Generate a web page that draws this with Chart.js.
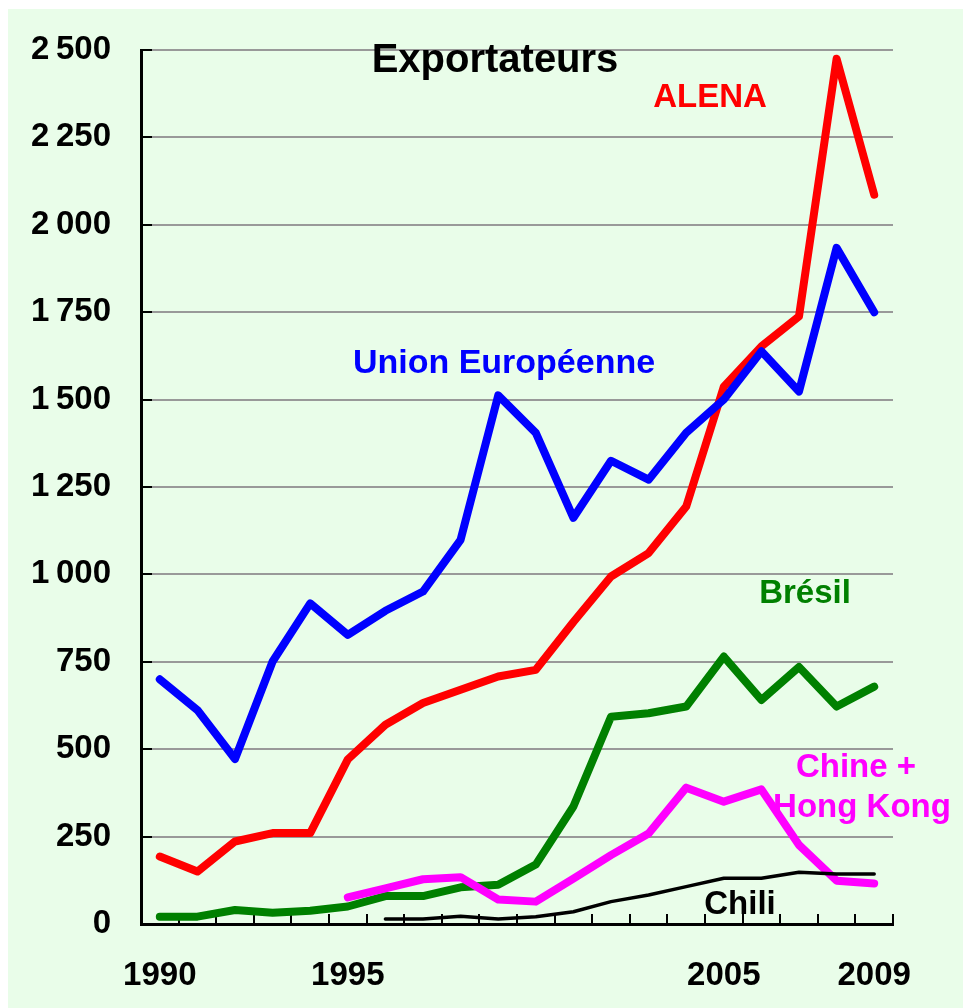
<!DOCTYPE html>
<html lang="fr">
<head>
    <meta charset="UTF-8">
    <title>Exportateurs</title>
    <style>
        html, body {
            margin: 0;
            padding: 0;
            background: #ffffff;
        }
        #chart {
            display: block;
        }
    </style>
</head>
<body>
    <canvas id="chart" width="963" height="1008"></canvas>

    <script src="https://cdn.jsdelivr.net/npm/chart.js"></script>
    <script>
        const years = ['1990', '1991', '1992', '1993', '1994', '1995', '1996', '1997', '1998', '1999',
                       '2000', '2001', '2002', '2003', '2004', '2005', '2006', '2007', '2008', '2009'];
        const xTickLabels = ['1990', '1995', '2005', '2009'];
        const yTickLabels = ['0', '250', '500', '750', '1\u2009000', '1\u2009250', '1\u2009500',
                             '1\u2009750', '2\u2009000', '2\u2009250', '2\u2009500'];

        const unionEuropeenne = [700, 612, 472, 751, 917, 827, 896, 951, 1099, 1512,
                                 1405, 1162, 1325, 1271, 1405, 1500, 1638, 1523, 1934, 1750];
        const alena = [193, 150, 236, 260, 260, 471, 570, 632, 670, 708,
                       727, 864, 994, 1061, 1194, 1537, 1652, 1738, 2475, 2086];
        const bresil = [21, 21, 40, 32, 38, 50, 80, 80, 105, 112,
                        170, 336, 593, 603, 622, 765, 641, 735, 622, 679];
        const chineHongKong = [null, null, null, null, null, 76, 102, 128, 134, 70,
                               64, 130, 197, 259, 390, 350, 385, 226, 124, 116];
        const chili = [null, null, null, null, null, null, 14, 14, 22, 14,
                       21, 35, 64, 83, 107, 131, 131, 148, 143, 143];

        const FONT = "'Liberation Sans', Arial, sans-serif";

        // light green panel behind everything
        const backgroundPlugin = {
            id: 'background',
            beforeDraw(chart) {
                const ctx = chart.ctx;
                ctx.save();
                ctx.fillStyle = '#ffffff';
                ctx.fillRect(0, 0, chart.width, chart.height);
                ctx.fillStyle = '#e9fde9';
                ctx.fillRect(8, 9, chart.width - 8, chart.height - 9);
                ctx.restore();
            }
        };

        // tick marks pointing into the plot area
        const innerTicksPlugin = {
            id: 'innerTicks',
            beforeDatasetsDraw(chart) {
                const ctx = chart.ctx;
                const area = chart.chartArea;
                const yScale = chart.scales.y;
                ctx.save();
                ctx.strokeStyle = '#000000';
                ctx.lineWidth = 2;
                ctx.beginPath();
                yScale.ticks.forEach(t => {
                    const y = Math.round(yScale.getPixelForValue(t.value));
                    ctx.moveTo(area.left, y);
                    ctx.lineTo(area.left + 11, y);
                });
                const n = years.length;
                const step = (area.right - area.left) / n;
                for (let i = 1; i <= n; i++) {
                    const x = Math.round(area.left + i * step);
                    ctx.moveTo(x, area.bottom);
                    ctx.lineTo(x, area.bottom - 10);
                }
                ctx.stroke();
                ctx.restore();
            }
        };

        const seriesLabels = [
            { text: 'Exportateurs', color: '#000000', size: 40, x: 495, y: 72 },
            { text: 'ALENA', color: '#ff0000', size: 33, x: 710, y: 107 },
            { text: 'Union Européenne', color: '#0000ff', size: 34, x: 504, y: 373 },
            { text: 'Brésil', color: '#008000', size: 33, x: 805, y: 603 },
            { text: 'Chine +', color: '#ff00ff', size: 33, x: 856, y: 777 },
            { text: 'Hong Kong', color: '#ff00ff', size: 33, x: 862, y: 817 },
            { text: 'Chili', color: '#000000', size: 33, x: 740, y: 914 }
        ];

        const labelsPlugin = {
            id: 'seriesLabels',
            afterDatasetsDraw(chart) {
                const ctx = chart.ctx;
                ctx.save();
                ctx.textAlign = 'center';
                ctx.textBaseline = 'alphabetic';
                seriesLabels.forEach(l => {
                    ctx.font = 'bold ' + l.size + 'px ' + FONT;
                    ctx.fillStyle = l.color;
                    ctx.fillText(l.text, l.x, l.y);
                });
                ctx.restore();
            }
        };

        function line(label, data, color, width) {
            return {
                label: label,
                data: data,
                borderColor: color,
                backgroundColor: color,
                borderWidth: width,
                borderCapStyle: 'round',
                borderJoinStyle: 'round',
                pointRadius: 0,
                tension: 0,
                fill: false
            };
        }

        new Chart(document.getElementById('chart'), {
            type: 'line',
            data: {
                labels: years,
                datasets: [
                    line('Chili', chili, '#000000', 3.5),
                    line('Chine + Hong Kong', chineHongKong, '#ff00ff', 8),
                    line('Brésil', bresil, '#008000', 8),
                    line('Union Européenne', unionEuropeenne, '#0000ff', 8),
                    line('ALENA', alena, '#ff0000', 8)
                ]
            },
            options: {
                responsive: false,
                animation: false,
                devicePixelRatio: 1,
                layout: { padding: { left: 0, top: 50, right: 70, bottom: 0 } },
                plugins: {
                    legend: { display: false },
                    tooltip: { enabled: false }
                },
                scales: {
                    x: {
                        offset: true,
                        grid: { display: false, drawTicks: false },
                        border: { display: true, color: '#000000', width: 3 },
                        ticks: {
                            autoSkip: false,
                            maxRotation: 0,
                            padding: 32,
                            color: '#000000',
                            font: { family: FONT, size: 33, weight: 'bold' },
                            callback: function (value) {
                                const lbl = this.getLabelForValue(value);
                                return xTickLabels.includes(lbl) ? lbl : '';
                            }
                        },
                        afterFit(scale) { scale.height = 84; }
                    },
                    y: {
                        min: 0,
                        max: 2500,
                        grid: { color: '#999999', lineWidth: 2, drawTicks: false },
                        border: { display: true, color: '#000000', width: 3 },
                        ticks: {
                            stepSize: 250,
                            padding: 30,
                            color: '#000000',
                            font: { family: FONT, size: 33, weight: 'bold' },
                            callback: value => yTickLabels[Math.round(value / 250)]
                        },
                        afterFit(scale) { scale.width = 141; }
                    }
                }
            },
            plugins: [backgroundPlugin, innerTicksPlugin, labelsPlugin]
        });
    </script>
</body>
</html>
